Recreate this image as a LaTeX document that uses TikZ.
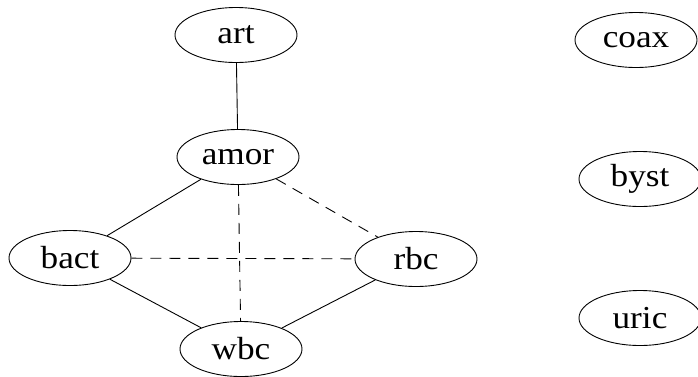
\documentclass[tikz,border=0pt]{standalone}
\usepackage{fontspec}
\setmainfont[FakeStretch=1.1]{Liberation Serif}
\usetikzlibrary{shapes.geometric}
\begin{document}
\begin{tikzpicture}[x=1pt,y=-1pt,
  vert/.style={draw, ellipse, line width=0.9pt, minimum width=122pt, minimum height=55pt, inner sep=0pt,
    font=\fontsize{32}{36}\selectfont},
  solidedge/.style={line width=0.9pt},
  dashedge/.style={line width=0.9pt, dash pattern=on 11pt off 8pt}]
\useasboundingbox (0,0) rectangle (698,376);
\node[vert] (art)  at (236,35)  {art};
\node[vert] (amor) at (238,157) {amor};
\node[vert] (bact) at (70,258)  {bact};
\node[vert] (rbc)  at (416,259) {rbc};
\node[vert] (wbc)  at (241,349) {wbc};
\node[vert] (coax) at (636,40)  {coax};
\node[vert] (byst) at (640,179) {byst};
\node[vert] (uric) at (640,318) {uric};
\draw[solidedge] (art) -- (amor);
\draw[solidedge] (amor) -- (bact);
\draw[dashedge] (amor) -- (wbc);
\draw[dashedge] (amor) -- (rbc);
\draw[dashedge] (bact) -- (rbc);
\draw[solidedge] (bact) -- (wbc);
\draw[solidedge] (wbc) -- (rbc);
\end{tikzpicture}
\end{document}
